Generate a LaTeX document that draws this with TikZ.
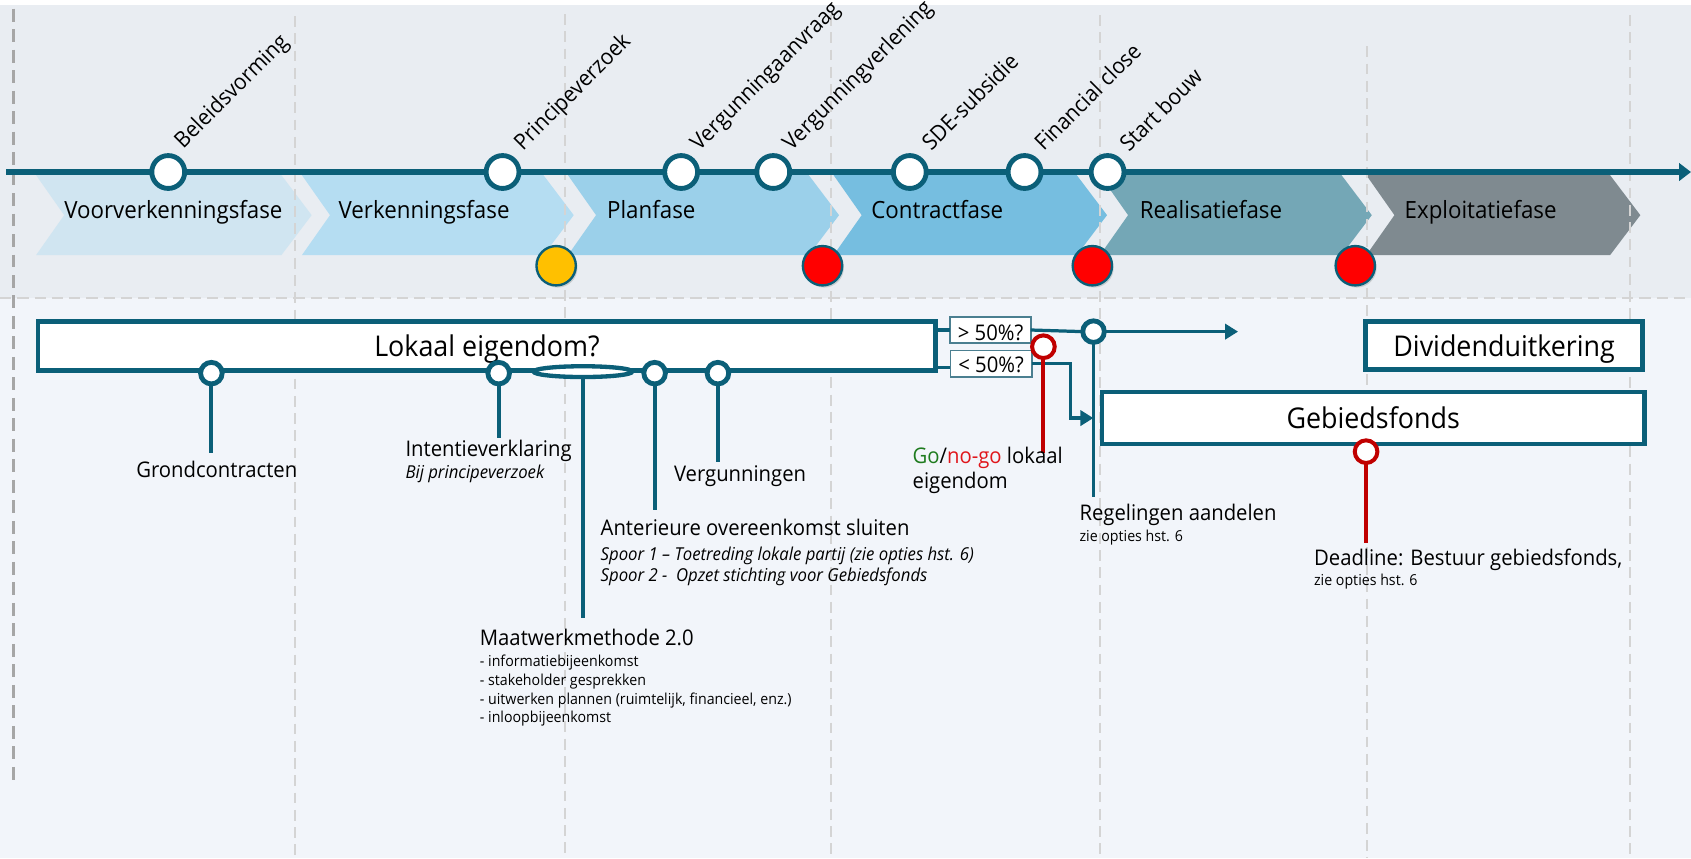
\documentclass[tikz,border=0pt]{standalone}
\usepackage{fontspec}
\setmainfont{Open Sans}[FakeStretch=0.94]
\usetikzlibrary{arrows.meta,shadows,calc,shapes.geometric}
\definecolor{tealD}{HTML}{0B5F78}
\definecolor{bgTop}{HTML}{E9EDF2}
\definecolor{bgLow}{HTML}{F2F5FA}
\definecolor{gridG}{HTML}{D4D4D4}
\definecolor{leftG}{HTML}{A6A6A6}
\definecolor{chA}{HTML}{D0E5F1}
\definecolor{chB}{HTML}{B5DDF2}
\definecolor{chC}{HTML}{9BD0EA}
\definecolor{chD}{HTML}{76BEE0}
\definecolor{chE}{HTML}{74A7B6}
\definecolor{chF}{HTML}{7F8A90}
\definecolor{boxB}{HTML}{4B7F90}
\definecolor{redD}{HTML}{C00000}
\definecolor{goG}{HTML}{1E7B1E}
\definecolor{nogoR}{HTML}{E0161B}
\definecolor{yelF}{HTML}{FFC000}
\definecolor{redF}{HTML}{FF0000}
\newcommand\fsPh{\fontsize{22bp}{26bp}\selectfont}
\newcommand\fsMs{\fontsize{20.5bp}{24bp}\selectfont}
\newcommand\fsBig{\fontsize{26.5bp}{30bp}\selectfont}
\newcommand\fsN{\fontsize{20bp}{24bp}\selectfont}
\newcommand\fsIt{\fontsize{16.5bp}{20bp}\selectfont\itshape}
\newcommand\fsSm{\fontsize{14bp}{17bp}\selectfont}
\begin{document}
\begin{tikzpicture}[x=1bp,y=-1bp,
  every node/.style={inner sep=0pt, outer sep=0pt},
  phaselbl/.style={font=\fsPh, text=black, anchor=base west},
  mscirc/.style={circle, draw=tealD, line width=4.5bp, fill=white, minimum size=30.5bp},
  mslbl/.style={font=\fsMs, rotate=45, anchor=base west},
  bigdot/.style={circle, draw=tealD, line width=2.2bp, minimum size=36.5bp,
    drop shadow={shadow xshift=1.5bp, shadow yshift=-2bp, opacity=0.3}},
  bigbox/.style={draw=tealD, line width=4.5bp, fill=white, font=\fsBig, text depth=0pt, text height=20.5bp},
  pctbox/.style={draw=boxB, line width=1.8bp, fill=white, font=\fsN, text depth=0pt, text height=17.5bp},
  lokdot/.style={circle, draw=tealD, line width=4.5bp, fill=white, minimum size=20bp},
  reddot/.style={circle, draw=redD, line width=3.7bp, fill=white, minimum size=21bp},
  link/.style={draw=tealD, line width=3bp},
  stemline/.style={draw=tealD, line width=3.5bp},
  redstemline/.style={draw=redD, line width=3.7bp},
  lbl/.style={font=\fsN, anchor=base west},
  lblit/.style={font=\fsIt, anchor=base west},
  lblsm/.style={font=\fsSm, anchor=base west},
  gridv/.style={draw=gridG, line width=1.8bp, dash pattern=on 10bp off 6bp},
  leftdash/.style={draw=leftG, line width=2.4bp, dash pattern=on 12bp off 7bp},
  hdash/.style={draw=gridG, line width=1.8bp, dash pattern=on 10.5bp off 5.5bp},
  arrowtip/.style={-{Triangle[length=12bp,width=14bp]}}
]
\useasboundingbox (0,0) rectangle (1568,796);
% background
\fill[bgLow] (0,0) rectangle (1568,796);
\fill[bgTop] (0,4.3) rectangle (1568,276);
\fill[white] (0,0) rectangle (1568,4.3);
% chevrons
\foreach \L/\T/\c in {59.5/289/chA, 306/532/chB, 552.7/778/chC, 799/1026.5/chD, 1046/1272/chE, 1293/1521/chF}
  \fill[\c] (\L-26,162.5) -- (\T-28,162.5) -- (\T,199.5) -- (\T-28,236.5) -- (\L-26,236.5) -- (\L,199.5) -- cycle;
\node[phaselbl] (ph1) at (59.7,203) {Voorverkenningsfase};
\node[phaselbl] (ph2) at (314,203) {Verkenningsfase};
\node[phaselbl] (ph3) at (563,203) {Planfase};
\node[phaselbl] (ph4) at (808,203) {Contractfase};
\node[phaselbl] (ph5) at (1057,203) {Realisatiefase};
\node[phaselbl] (ph6) at (1302.5,203) {Exploitatiefase};
% dashed guide lines
\draw[hdash] (0,276) -- (1568,276);
\foreach \x/\s in {273.6/15, 524/13, 770.5/14, 1020/14, 1267.5/43, 1511.5/14}
  \draw[gridv] (\x,\s) -- (\x,796);
\draw[leftdash] (12.4,8) -- (12.4,726);
% timeline
\coordinate (tlS) at (5.6,159.5);
\coordinate (tlE) at (1568,159.5);
\draw[draw=tealD, line width=4.8bp, -{Triangle[length=11bp,width=16bp]}] (tlS) -- (tlE);
\node[mscirc] (m1) at (156,159.5) {};
\node[mscirc] (m2) at (466,159.5) {};
\node[mscirc] (m3) at (631.6,159.5) {};
\node[mscirc] (m4) at (717,159.5) {};
\node[mscirc] (m5) at (843.6,159.5) {};
\node[mscirc] (m6) at (950,159.5) {};
\node[mscirc] (m7) at (1027,159.5) {};
\node[mslbl] (l1) at ($(m1)+(14,-21)$) {Beleidsvorming};
\node[mslbl] (l2) at ($(m2)+(19,-19)$) {Principeverzoek};
\node[mslbl] (l3) at ($(m3)+(17,-19)$) {Vergunningaanvraag};
\node[mslbl] (l4) at ($(m4)+(17,-19)$) {Vergunningverlening};
\node[mslbl] (l5) at ($(m5)+(20,-19)$) {SDE-subsidie};
\node[mslbl] (l6) at ($(m6)+(18,-19)$) {Financial close};
\node[mslbl] (l7) at ($(m7)+(20,-18)$) {Start bouw};
% go/no-go dots
\node[bigdot, fill=yelF] (d1) at (515.7,246.4) {};
\node[bigdot, fill=redF] (d2) at (762.7,246.4) {};
\node[bigdot, fill=redF] (d3) at (1012.9,246.4) {};
\node[bigdot, fill=redF] (d4) at (1256.7,246.4) {};
% main boxes
\node[bigbox, minimum width=832.5bp, minimum height=45.5bp] (lok) at (451.5,320.5) {Lokaal eigendom?};
\node[bigbox, minimum width=256.9bp, minimum height=44.2bp] (div) at (1394.7,320.35) {Dividenduitkering};
\node[bigbox, minimum width=502.9bp, minimum height=48.2bp, text height=19.5bp] (geb) at (1273.3,387.65) {Gebiedsfonds};
% percentage boxes
\node[pctbox, minimum width=74.4bp, minimum height=24.6bp, text height=18.6bp] (gt) at (918.5,306) {> 50\%?};
\node[pctbox, minimum width=75.3bp, minimum height=24.2bp, text height=16.4bp] (lt) at (919,337.1) {< 50\%?};
% regelingen dot and links
\node[lokdot] (rc) at (1014,307.5) {};
\coordinate (rcEnd) at (1014,460.6);
\coordinate (gtArr) at (1148,307.5);
\draw[stemline] (rc.south) -- (rcEnd);
\draw[link] (lok.east |- gt.west) -- (gt.west);
\draw[link] (gt.east) -- (rc.west);
\draw[link, arrowtip] (rc.east) -- (gtArr);
\draw[link] (lok.east |- 0,341) -- (lt.west |- 0,341);
\draw[link, arrowtip] (lt.east) -- ++(36.2,0) |- ([xshift=-8bp]geb.west);
% red go/no-go marker
\node[reddot] (gng) at (967.5,321.5) {};
\coordinate (gngEnd) at (967.5,420.4);
\draw[redstemline] (gng.south) -- (gngEnd);
% deadline marker
\node[reddot] (dl) at (1266.7,418.8) {};
\coordinate (dlEnd) at (1266.7,503.8);
\draw[redstemline] (dl.south) -- (dlEnd);
% markers on Lokaal eigendom
\node[lokdot] (gc) at (196,346) {};
\node[lokdot] (iv) at (462.4,346) {};
\node[ellipse, draw=tealD, line width=4bp, fill=white, minimum width=91.5bp, minimum height=10bp] (el) at (540.5,344.6) {};
\node[lokdot] (ao) at (607,346) {};
\node[lokdot] (vg) at (665.7,346) {};
\coordinate (gcEnd) at (196,420);
\coordinate (ivEnd) at (462.4,406);
\coordinate (elEnd) at (540.5,573);
\coordinate (aoEnd) at (607,473);
\coordinate (vgEnd) at (665.7,428);
\draw[stemline] (gc.south) -- (gcEnd);
\draw[stemline] (iv.south) -- (ivEnd);
\draw[stemline] (el.south) -- (elEnd);
\draw[stemline] (ao.south) -- (aoEnd);
\draw[stemline] (vg.south) -- (vgEnd);
% labels
\node[lbl, anchor=base] (tgc) at (201,443) {Grondcontracten};
\node[lbl] (tiv) at (376,423.5) {Intentieverklaring};
\node[lblit] (tiv2) at (376,444) {Bij principeverzoek};
\node[lbl] (tvg) at (625,446.7) {Vergunningen};
\node[lbl] (tao) at (557,496.5) {Anterieure overeenkomst sluiten};
\node[lblit] (tao2) at (557,519.5) {Spoor 1 – Toetreding lokale partij (zie opties hst. 6)};
\node[lblit] (tao3) at (557,539) {Spoor 2 -\ \ Opzet stichting voor Gebiedsfonds};
\node[lbl] (tmw) at (445,598.7) {Maatwerkmethode 2.0};
\node[lblsm] (tmw1) at (445,618) {- informatiebijeenkomst};
\node[lblsm] (tmw2) at (445,635.5) {- stakeholder gesprekken};
\node[lblsm] (tmw3) at (445,653) {- uitwerken plannen (ruimtelijk, financieel, enz.)};
\node[lblsm] (tmw4) at (445,670) {- inloopbijeenkomst};
\node[lbl] (tgn) at (846.3,429.7) {\textcolor{goG}{Go}/\textcolor{nogoR}{no-go} lokaal};
\node[lbl] (tgn2) at (846.3,452.8) {eigendom};
\node[lbl] (trg) at (1001,483) {Regelingen aandelen};
\node[lblsm] (trg2) at (1001,502) {zie opties hst. 6};
\node[lbl] (tdl) at (1218.5,524) {Deadline: Bestuur gebiedsfonds,};
\node[lblsm] (tdl2) at (1218.5,542.5) {zie opties hst. 6};
\end{tikzpicture}
\end{document}
